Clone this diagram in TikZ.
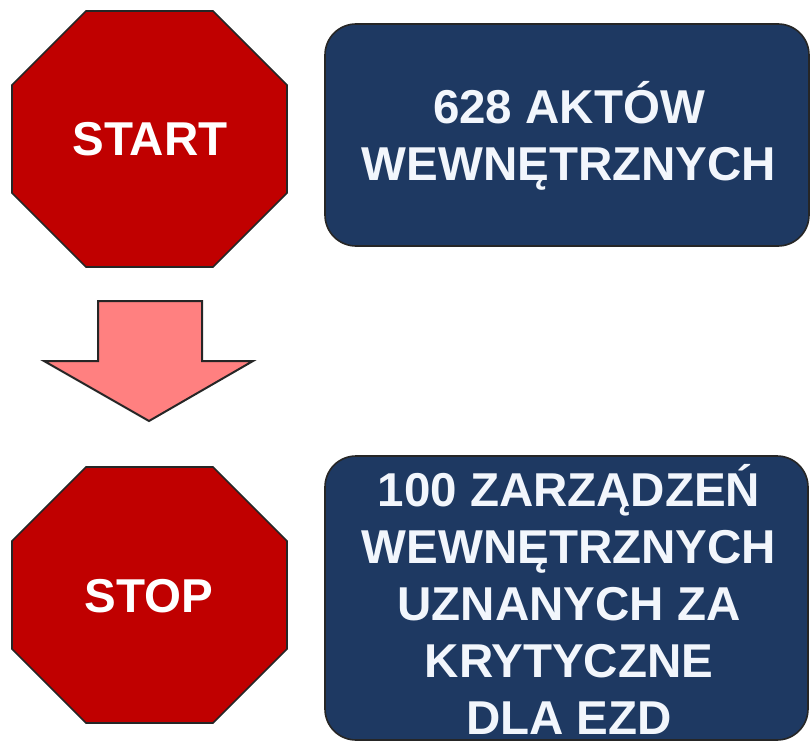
\documentclass[tikz,border=0pt]{standalone}
\usepackage{fontspec}
\setmainfont{Liberation Sans}
\definecolor{stopred}{RGB}{192,0,0}
\definecolor{boxblue}{RGB}{30,57,98}
\definecolor{txtwhite}{RGB}{242,246,252}
\definecolor{edgedark}{RGB}{38,38,38}
\definecolor{arrowpink}{RGB}{255,128,128}
\tikzset{
  octa/.style={fill=stopred, draw=edgedark, line width=1.6bp, line join=miter},
  bluebox/.style={fill=boxblue, draw=edgedark, line width=1.6bp, rounded corners=31bp},
  downarrow/.style={fill=arrowpink, draw=edgedark, line width=2bp, line join=miter},
  octatext/.style={text=white, inner sep=0pt, font=\bfseries\fontsize{47.5bp}{55bp}\selectfont},
  boxtext/.style={text=txtwhite, inner sep=0pt, align=center, font=\bfseries\fontsize{47.5bp}{57bp}\selectfont}
}
\begin{document}
\begin{tikzpicture}[x=1bp,y=-1bp]
\useasboundingbox (0,0) rectangle (810,742);
% START octagon
\draw[octa] (86,11) -- (213,11) -- (287,85) -- (287,193) -- (213,267) -- (86,267) -- (12,193) -- (12,85) -- cycle;
\node[octatext] (start) at (150,139) {START};
% arrow
\draw[downarrow] (98,301) -- (202,301) -- (202,361) -- (253,361) -- (149,421) -- (44,361) -- (98,361) -- cycle;
% STOP octagon
\draw[octa] (86,467) -- (213,467) -- (287,541) -- (287,649) -- (213,723) -- (86,723) -- (12,649) -- (12,541) -- cycle;
\node[octatext] (stop) at (149,596) {STOP};
% boxes
\draw[bluebox] (325,24) rectangle (809,246);
\node[boxtext] (akty) at (569,136) {628 AKTÓW\\WEWNĘTRZNYCH};
\draw[bluebox] (325,456) rectangle (808,740);
\node[boxtext] (zarz) at (569,599) {100 ZARZĄDZEŃ\\WEWNĘTRZNYCH\\UZNANYCH ZA\\KRYTYCZNE\\DLA EZD};
\end{tikzpicture}
\end{document}
